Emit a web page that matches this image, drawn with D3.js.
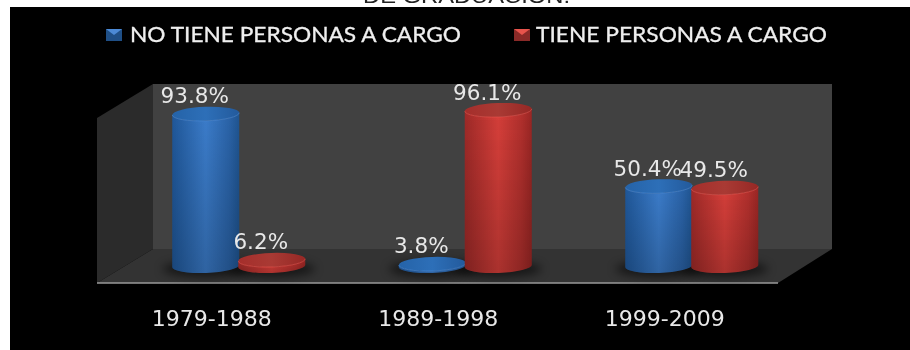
<!DOCTYPE html>
<html>
<head>
<meta charset="utf-8">
<script src="https://cdn.jsdelivr.net/npm/d3@7"></script>
<style>
    html, body { margin: 0; padding: 0; background: #fff; overflow: hidden; }
    /* the reference is a soft, upscaled image */
    svg { display: block; filter: blur(0.45px); }
</style>
</head>
<body>
<div id="chart-container"></div>
<script>
const periods = ["1979-1988", "1989-1998", "1999-2009"];
const seriesNames = ["NO TIENE PERSONAS A CARGO", "TIENE PERSONAS A CARGO"];
const noTiene = [93.8, 3.8, 50.4];
const tiene = [6.2, 96.1, 49.5];
const titleTail = "DE GRADUACIÓN.";

const width = 910;
const height = 350;

const svg = d3.select("#chart-container")
    .append("svg")
    .attr("width", width)
    .attr("height", height);

const defs = svg.append("defs");

// Side to side shading of the cylinders
function addGradient(id, stops) {
    const g = defs.append("linearGradient").attr("id", id);
    stops.forEach(s => g.append("stop").attr("offset", s[0]).attr("stop-color", s[1]));
}
addGradient("body-0", [["0", "#1f5799"], ["0.5", "#3b7cca"], ["0.85", "#2a63a8"], ["1", "#1f5490"]]);
addGradient("body-1", [["0", "#a02a28"], ["0.5", "#d83f3a"], ["0.85", "#b3302d"], ["1", "#9a2624"]]);
addGradient("top-0", [["0", "#2563a8"], ["0.5", "#2d6fb8"], ["1", "#235a9c"]]);
addGradient("top-1", [["0", "#a52e2b"], ["0.5", "#a93a34"], ["1", "#962825"]]);

// Darkens the cylinders towards the floor
const fade = defs.append("linearGradient").attr("id", "fade")
    .attr("x1", 0).attr("x2", 0).attr("y1", 0).attr("y2", 1);
fade.append("stop").attr("offset", "0").attr("stop-color", "#000").attr("stop-opacity", 0);
fade.append("stop").attr("offset", "1").attr("stop-color", "#000").attr("stop-opacity", 0.2);

// Faint horizontal bands seen on the red cylinders
const bands = defs.append("pattern").attr("id", "bands")
    .attr("patternUnits", "userSpaceOnUse")
    .attr("width", 10).attr("height", 20);
bands.append("rect")
    .attr("width", 10).attr("height", 10)
    .attr("fill", "#000").attr("opacity", 0.02);

defs.append("filter").attr("id", "blur")
    .attr("x", "-30%").attr("y", "-100%").attr("width", "160%").attr("height", "300%")
    .append("feGaussianBlur").attr("stdDeviation", 5);

const rimColors = ["#4c8ad6", "#e8544c"];

// Title of the slide, cut off by the black panel
svg.append("text")
    .attr("x", 363)
    .attr("y", 3)
    .attr("textLength", 207)
    .attr("lengthAdjust", "spacingAndGlyphs")
    .style("font-family", "'Liberation Sans'")
    .style("font-size", "20px")
    .attr("fill", "#222")
    .text(titleTail);

svg.append("rect")
    .attr("x", 10).attr("y", 7)
    .attr("width", width - 10).attr("height", height - 7)
    .attr("fill", "#000");

// 3D box: back wall, left wall, floor
const wall = { left: 153, right: 832, top: 84, bottom: 249 };
const front = { left: 97, right: 778, y: 283, wallTop: 118 };

svg.append("path")
    .attr("d", `M${front.left},${front.wallTop}L${wall.left},${wall.top}V${wall.bottom}L${front.left},${front.y}Z`)
    .attr("fill", "#2b2b2b");
svg.append("rect")
    .attr("x", wall.left).attr("y", wall.top)
    .attr("width", wall.right - wall.left).attr("height", wall.bottom - wall.top)
    .attr("fill", "#414141");
svg.append("path")
    .attr("d", `M${wall.left},${wall.bottom}H${wall.right}L${front.right},${front.y}H${front.left}Z`)
    .attr("fill", "#333333");
svg.append("line")
    .attr("x1", front.left).attr("x2", front.right)
    .attr("y1", front.y).attr("y2", front.y)
    .attr("stroke", "#9a9a9a")
    .attr("stroke-width", 1.5);

// Scales
const xScale = d3.scaleBand().domain(periods).range([125.5, 805]);
const xSeries = d3.scaleBand().domain([0, 1]).range([-66, 66]);
const yScale = d3.scaleLinear().domain([0, 100]).range([270.3, 103.5]);

const rx = 33.5;
const ry = 7;
const baseY = 266;
const tilt = -2;
const lift = rx * Math.sin(tilt * Math.PI / 180);

// Side wall of a cylinder, tilted a little like the perspective of the box
function bodyPath(cx, top) {
    return `M${cx - rx},${top - lift}L${cx - rx},${baseY - lift}` +
        `A${rx},${ry} ${tilt} 0 0 ${cx + rx},${baseY + lift}` +
        `L${cx + rx},${top + lift}` +
        `A${rx},${ry} ${tilt} 0 1 ${cx - rx},${top - lift}Z`;
}

const rows = periods.map((p, i) => [
    { period: p, series: 0, value: noTiene[i] },
    { period: p, series: 1, value: tiene[i] }
]).flat();

const cx = d => xScale(d.period) + xScale.bandwidth() / 2 + xSeries(d.series) + xSeries.bandwidth() / 2;

// Floor shadows go under all the cylinders
svg.append("g").selectAll("ellipse")
    .data(rows)
    .enter()
    .append("ellipse")
    .attr("cx", d => cx(d))
    .attr("cy", baseY + 3)
    .attr("rx", rx + 10)
    .attr("ry", ry + 1)
    .attr("fill", "#000")
    .attr("opacity", 0.55)
    .attr("filter", "url(#blur)");

const cylinders = svg.append("g").selectAll("g")
    .data(rows)
    .enter()
    .append("g");

cylinders.append("path")
    .attr("d", d => bodyPath(cx(d), yScale(d.value)))
    .attr("fill", d => `url(#body-${d.series})`);

cylinders.append("path")
    .attr("d", d => bodyPath(cx(d), yScale(d.value)))
    .attr("fill", "url(#fade)");

cylinders.filter(d => d.series === 1).append("path")
    .attr("d", d => bodyPath(cx(d), yScale(d.value)))
    .attr("fill", "url(#bands)");

cylinders.append("ellipse")
    .attr("cx", d => cx(d))
    .attr("cy", d => yScale(d.value))
    .attr("rx", rx)
    .attr("ry", ry)
    .attr("transform", d => `rotate(${tilt} ${cx(d)} ${yScale(d.value)})`)
    .attr("fill", d => `url(#top-${d.series})`);

// Bright front rim of the top face
cylinders.append("path")
    .attr("d", d => `M${cx(d) - rx},${yScale(d.value) - lift}A${rx},${ry} ${tilt} 0 0 ${cx(d) + rx},${yScale(d.value) + lift}`)
    .attr("fill", "none")
    .attr("stroke", d => rimColors[d.series])
    .attr("stroke-width", 1)
    .attr("opacity", 0.6);

// Data labels
svg.append("g").selectAll("text")
    .data(rows)
    .enter()
    .append("text")
    .attr("x", d => cx(d) - 11)
    .attr("y", d => yScale(d.value) - 10.5)
    .attr("text-anchor", "middle")
    .style("font-family", "'DejaVu Sans'")
    .style("font-size", "21.5px")
    .attr("fill", "#e8e8e8")
    .text(d => d.value.toFixed(1) + "%");

// Category axis, shifted left like the front edge of the box
const axis = svg.append("g")
    .attr("transform", `translate(-27, ${front.y})`)
    .call(d3.axisBottom(xScale).tickSize(0).tickPadding(27));
axis.select(".domain").remove();
axis.selectAll("text")
    .style("font-family", "'DejaVu Sans'")
    .style("font-size", "22px")
    .attr("fill", "#e8e8e8");

// Legend
const legendX = [{ icon: 106, text: 130, len: 331 }, { icon: 514, text: 536, len: 291 }];

const legendItems = svg.append("g").selectAll("g")
    .data(seriesNames)
    .enter()
    .append("g")
    .attr("transform", (d, i) => `translate(${legendX[i].icon}, 29)`);

legendItems.append("rect")
    .attr("width", 16)
    .attr("height", 12)
    .attr("fill", (d, i) => i === 0 ? "#1f4f86" : "#8a2a28");

legendItems.append("path")
    .attr("d", "M0,0H16L8,6Z")
    .attr("fill", (d, i) => rimColors[i]);

legendItems.append("text")
    .attr("x", (d, i) => legendX[i].text - legendX[i].icon)
    .attr("y", 13)
    .attr("textLength", (d, i) => legendX[i].len)
    .attr("lengthAdjust", "spacingAndGlyphs")
    .style("font-family", "Lato")
    .style("font-size", "21px")
    .attr("stroke", "#efefef")
    .attr("stroke-width", 0.3)
    .attr("fill", "#efefef")
    .text(d => d);
</script>
</body>
</html>
